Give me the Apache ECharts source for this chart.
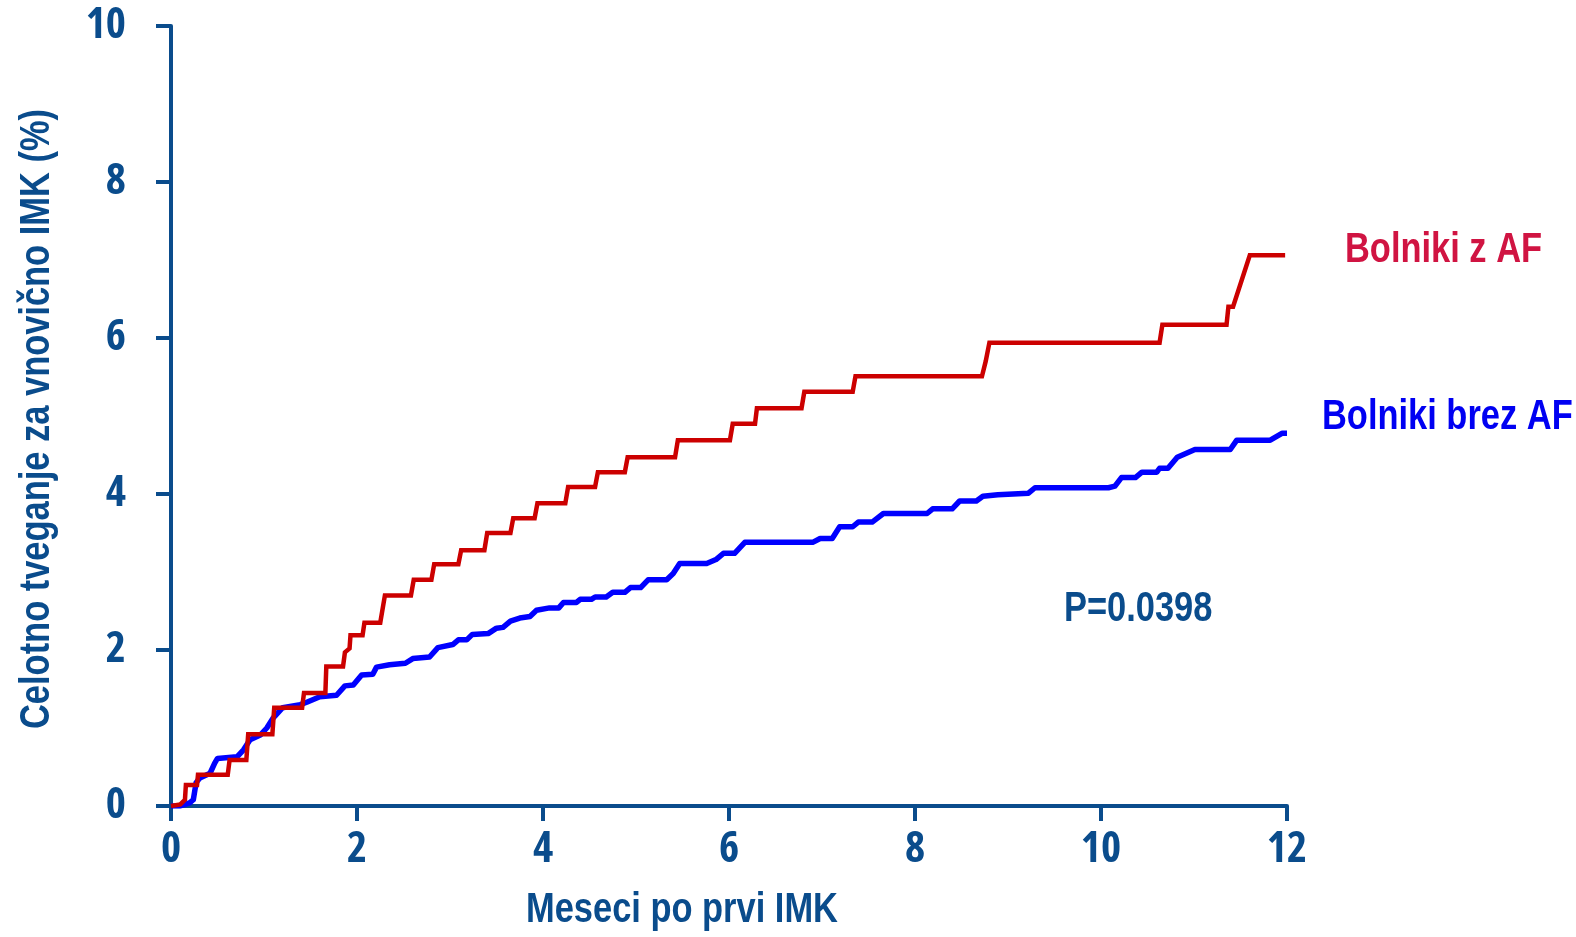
<!DOCTYPE html>
<html>
<head>
<meta charset="utf-8">
<script src="https://cdn.jsdelivr.net/npm/echarts@6/dist/echarts.min.js"></script>
<style>
html,body{margin:0;padding:0;background:#fff;}
#chart{width:1576px;height:937px;}
</style>
</head>
<body>
<div id="chart"></div>
<script>
// ---- data ----
const xTicks = [0, 2, 4, 6, 8, 10, 12];
const yTicks = [0, 2, 4, 6, 8, 10];

// Bolniki z AF (red)
const afMonths = [0, 0.10, 0.15, 0.16, 0.28, 0.29, 0.61, 0.63, 0.81, 0.83, 1.09, 1.11, 1.41, 1.43, 1.66, 1.67, 1.85, 1.87, 1.92, 1.93, 2.06, 2.08, 2.25, 2.30, 2.58, 2.61, 2.80, 2.83, 3.09, 3.12, 3.37, 3.40, 3.65, 3.68, 3.91, 3.94, 4.24, 4.27, 4.56, 4.59, 4.88, 4.91, 5.42, 5.45, 6.01, 6.04, 6.28, 6.30, 6.78, 6.81, 7.33, 7.36, 8.72, 8.76, 8.80, 10.63, 10.66, 11.35, 11.37, 11.42, 11.60, 11.98];
const afRisk   = [0, 0.02, 0.08, 0.27, 0.27, 0.40, 0.40, 0.59, 0.59, 0.92, 0.92, 1.26, 1.26, 1.45, 1.45, 1.79, 1.79, 1.97, 2.02, 2.19, 2.19, 2.35, 2.35, 2.70, 2.70, 2.90, 2.90, 3.10, 3.10, 3.28, 3.28, 3.50, 3.50, 3.69, 3.69, 3.88, 3.88, 4.09, 4.09, 4.28, 4.28, 4.47, 4.47, 4.69, 4.69, 4.90, 4.90, 5.10, 5.10, 5.31, 5.31, 5.51, 5.51, 5.70, 5.94, 5.94, 6.17, 6.17, 6.40, 6.40, 7.06, 7.06];

// Bolniki brez AF (blue)
const noAfMonths = [0, 0.10, 0.20, 0.24, 0.27, 0.31, 0.42, 0.47, 0.50, 0.71, 0.78, 0.85, 0.96, 1.03, 1.10, 1.20, 1.39, 1.46, 1.60, 1.78, 1.87, 1.96, 2.05, 2.17, 2.21, 2.35, 2.52, 2.60, 2.78, 2.87, 3.03, 3.09, 3.18, 3.24, 3.41, 3.50, 3.57, 3.65, 3.75, 3.86, 3.93, 4.07, 4.17, 4.22, 4.36, 4.40, 4.52, 4.56, 4.68, 4.75, 4.88, 4.94, 5.05, 5.13, 5.33, 5.40, 5.47, 5.76, 5.86, 5.94, 6.06, 6.17, 6.90, 6.98, 7.11, 7.19, 7.33, 7.39, 7.54, 7.66, 8.13, 8.19, 8.40, 8.48, 8.66, 8.73, 8.89, 9.22, 9.29, 10.08, 10.15, 10.22, 10.37, 10.44, 10.60, 10.63, 10.72, 10.77, 10.82, 11.01, 11.39, 11.46, 11.82, 11.95, 12.0];
const noAfRisk   = [0, 0, 0.04, 0.08, 0.30, 0.36, 0.42, 0.55, 0.61, 0.63, 0.72, 0.85, 0.91, 1.00, 1.13, 1.26, 1.30, 1.33, 1.40, 1.42, 1.54, 1.55, 1.68, 1.69, 1.78, 1.81, 1.83, 1.89, 1.91, 2.03, 2.07, 2.13, 2.13, 2.20, 2.21, 2.28, 2.29, 2.37, 2.41, 2.43, 2.51, 2.54, 2.54, 2.61, 2.61, 2.65, 2.65, 2.68, 2.68, 2.74, 2.74, 2.80, 2.80, 2.90, 2.90, 2.98, 3.11, 3.11, 3.16, 3.24, 3.24, 3.38, 3.38, 3.43, 3.43, 3.58, 3.58, 3.64, 3.64, 3.75, 3.75, 3.81, 3.81, 3.91, 3.91, 3.97, 3.99, 4.01, 4.08, 4.08, 4.10, 4.21, 4.21, 4.28, 4.28, 4.33, 4.33, 4.40, 4.47, 4.57, 4.57, 4.69, 4.69, 4.78, 4.78];

const labels = {
  xTitle: 'Meseci po prvi IMK',
  yTitle: 'Celotno tveganje za vnovično IMK (%)',
  af: 'Bolniki z AF',
  noAf: 'Bolniki brez AF',
  pValue: 'P=0.0398'
};

// ---- chart ----
const FONT = '"Liberation Sans", Arial, sans-serif';
const TICKFONT = '"Open Sans", "Liberation Sans", sans-serif';
const AXIS = '#0A4C8C';
const SX = 0.82; // horizontal condensing (Arial Narrow look)
const zip = (xs, ys) => xs.map((x, i) => [x, ys[i]]);

const chart = echarts.init(document.getElementById('chart'), null, {renderer: 'canvas'});
chart.setOption({
  animation: false,
  backgroundColor: '#ffffff',
  grid: {left: 171, right: 289, top: 26, bottom: 131, containLabel: false},
  xAxis: {
    type: 'value', min: xTicks[0], max: xTicks[xTicks.length - 1], interval: 2,
    axisLine: {lineStyle: {color: AXIS, width: 4}},
    axisTick: {show: true, inside: false, length: 15, lineStyle: {color: AXIS, width: 4}},
    splitLine: {show: false},
    axisLabel: {color: AXIS, fontFamily: TICKFONT, fontWeight: 'bold condensed', fontSize: 43, margin: 22}
  },
  yAxis: {
    type: 'value', min: yTicks[0], max: yTicks[yTicks.length - 1], interval: 2,
    axisLine: {show: true, lineStyle: {color: AXIS, width: 4}},
    axisTick: {show: true, inside: false, length: 15, lineStyle: {color: AXIS, width: 4}},
    splitLine: {show: false},
    axisLabel: {color: AXIS, fontFamily: TICKFONT, fontWeight: 'bold condensed', fontSize: 43, margin: 45}
  },
  series: [
    {
      name: labels.noAf, type: 'line', showSymbol: false, symbol: 'none',
      data: zip(noAfMonths, noAfRisk),
      lineStyle: {color: '#0000FF', width: 5.5, join: 'round'},
      z: 3
    },
    {
      name: labels.af, type: 'line', showSymbol: false, symbol: 'none',
      data: zip(afMonths, afRisk),
      lineStyle: {color: '#CC0000', width: 4.5, join: 'miter'},
      z: 4
    }
  ],
  graphic: [
    {type: 'text', x: 1345, y: 229, scaleX: SX, style: {text: labels.af, fill: '#D01442', font: 'bold 42px ' + FONT}},
    {type: 'text', x: 1322, y: 396, scaleX: SX, style: {text: labels.noAf, fill: '#0000F2', font: 'bold 42px ' + FONT}},
    {type: 'text', x: 1064, y: 588, scaleX: SX, style: {text: labels.pValue, fill: AXIS, font: 'bold 42px ' + FONT}},
    {type: 'text', x: 526, y: 889, scaleX: SX, style: {text: labels.xTitle, fill: AXIS, font: 'bold 42px ' + FONT}},
    {type: 'text', x: 16, y: 729, rotation: Math.PI / 2, scaleX: SX,
     style: {text: labels.yTitle, fill: AXIS, font: 'bold 42px ' + FONT}}
  ]
});
</script>
</body>
</html>
